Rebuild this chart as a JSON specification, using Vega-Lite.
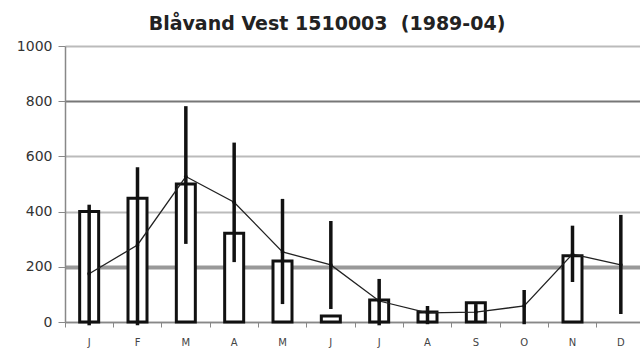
{
  "$schema": "https://vega.github.io/schema/vega-lite/v6.json",
  "autosize": "none",
  "width": 580,
  "height": 276,
  "padding": {"left": 65, "top": 46, "right": 0, "bottom": 29},
  "background": "white",
  "title": {
    "text": "Blåvand Vest 1510003 \u00a0(1989-04)",
    "font": "DejaVu Sans",
    "fontSize": 19,
    "fontWeight": "bold",
    "color": "#222",
    "anchor": "middle",
    "dx": -28,
    "baseline": "alphabetic",
    "offset": -10
  },
  "config": {
    "view": {"stroke": null},
    "axis": {"labelFont": "DejaVu Sans", "titleFont": "DejaVu Sans"}
  },
  "data": {
    "values": [
      {"m": 1, "bar": 400, "lo": -12, "hi": 425, "mean": 175},
      {"m": 2, "bar": 448, "lo": -12, "hi": 561, "mean": 279},
      {"m": 3, "bar": 500, "lo": 283, "hi": 782, "mean": 527},
      {"m": 4, "bar": 322, "lo": 217, "hi": 650, "mean": 434},
      {"m": 5, "bar": 221, "lo": 65, "hi": 446, "mean": 254},
      {"m": 6, "bar": 22, "lo": 47, "hi": 366, "mean": 207},
      {"m": 7, "bar": 80, "lo": -12, "hi": 156, "mean": 76},
      {"m": 8, "bar": 36, "lo": -8, "hi": 58, "mean": 33},
      {"m": 9, "bar": 70, "lo": 3, "hi": 65, "mean": 36},
      {"m": 10, "bar": null, "lo": -8, "hi": 116, "mean": 58},
      {"m": 11, "bar": 240, "lo": 145, "hi": 349, "mean": 246},
      {"m": 12, "bar": null, "lo": 29, "hi": 388, "mean": 207}
    ]
  },
  "encoding": {
    "x": {
      "field": "m",
      "type": "ordinal",
      "scale": {"paddingInner": 0, "paddingOuter": 0},
      "axis": {
        "title": null,
        "labelAngle": 0,
        "labelExpr": "['J','F','M','A','M','J','J','A','S','O','N','D'][datum.value-1]",
        "labelFontSize": 10,
        "labelColor": "#444",
        "labelPadding": 10,
        "bandPosition": 0,
        "ticks": true,
        "tickSize": 5,
        "tickColor": "#888",
        "tickWidth": 1,
        "domainColor": "#888",
        "domainWidth": 1.5,
        "grid": false
      }
    }
  },
  "layer": [
    {
      "mark": {"type": "bar", "size": 19, "fill": "white", "stroke": "#111", "strokeWidth": 3},
      "encoding": {
        "y": {
          "field": "bar",
          "type": "quantitative",
          "scale": {"domain": [0, 1000], "nice": false, "clamp": false},
          "axis": {
            "title": null,
            "values": [0, 200, 400, 600, 800, 1000],
            "format": "d",
            "labelFontSize": 14,
            "labelColor": "#333",
            "labelPadding": 6,
            "tickSize": 7,
            "tickColor": "#888",
            "domainColor": "#888",
            "domainWidth": 1.5,
            "grid": true,
            "gridColor": {
              "condition": [
                {"test": "datum.value == 800", "value": "#777"},
                {"test": "datum.value == 200", "value": "#999"},
                {"test": "datum.value == 0", "value": "#888"}
              ],
              "value": "#bbb"
            },
            "gridWidth": {
              "condition": [
                {"test": "datum.value == 200", "value": 4},
                {"test": "datum.value == 0", "value": 1.5}
              ],
              "value": 2
            },
            "gridOpacity": 1
          }
        }
      }
    },
    {
      "mark": {"type": "line", "color": "#222", "strokeWidth": 1.3, "point": {"filled": true, "size": 14, "color": "#111"}},
      "encoding": {
        "y": {"field": "mean", "type": "quantitative"}
      }
    },
    {
      "mark": {"type": "rule", "color": "#111", "strokeWidth": 3.5},
      "encoding": {
        "y": {"field": "lo", "type": "quantitative"},
        "y2": {"field": "hi"}
      }
    }
  ]
}
